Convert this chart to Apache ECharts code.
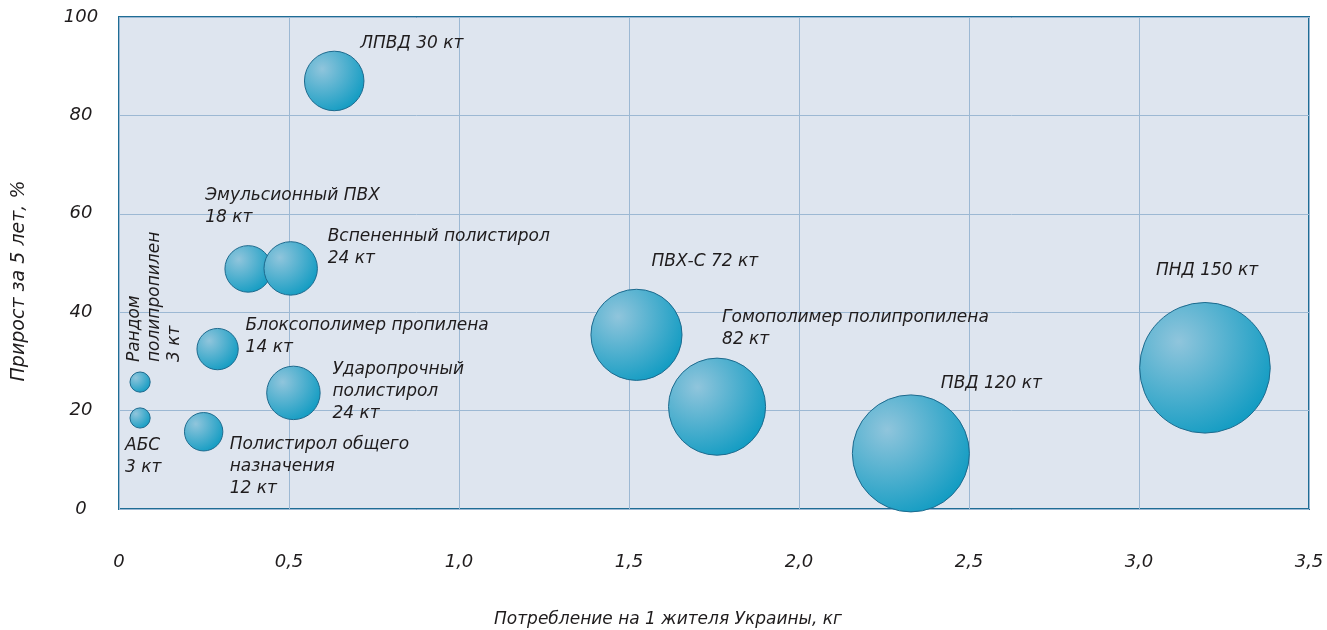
<!DOCTYPE html>
<html>
<head>
<meta charset="utf-8">
<script src="https://cdn.jsdelivr.net/npm/echarts@6/dist/echarts.min.js"></script>
<style>
html,body{margin:0;padding:0;background:#fff;}
#c{width:1327px;height:630px;}
</style>
</head>
<body>
<div id="c"></div>
<script>
// ---- data ----
var names = ['ЛПВД', 'Эмульсионный ПВХ', 'Вспененный полистирол', 'Блоксополимер пропилена',
  'Рандом полипропилен', 'АБС', 'Ударопрочный полистирол', 'Полистирол общего назначения',
  'ПВХ-С', 'Гомополимер полипропилена', 'ПВД', 'ПНД'];
var consumption = [0.633, 0.380, 0.505, 0.290, 0.062, 0.062, 0.513, 0.249, 1.522, 1.759, 2.329, 3.194];
var growth = [87.0, 48.8, 48.9, 32.5, 25.8, 18.5, 23.6, 15.7, 35.4, 20.8, 11.3, 28.7];
var volumeKt = [30, 18, 24, 14, 3, 3, 24, 12, 72, 82, 120, 150];
var labelTexts = ['ЛПВД 30 кт', 'Эмульсионный ПВХ\n18 кт', 'Вспененный полистирол\n24 кт',
  'Блоксополимер пропилена\n14 кт', 'Рандом\nполипропилен\n3 кт', 'АБС\n3 кт',
  'Ударопрочный\nполистирол\n24 кт', 'Полистирол общего\nназначения\n12 кт',
  'ПВХ-С 72 кт', 'Гомополимер полипропилена\n82 кт', 'ПВД 120 кт', 'ПНД 150 кт'];
var xTicks = ['0', '0,5', '1,0', '1,5', '2,0', '2,5', '3,0', '3,5'];
var xAxisTitle = 'Потребление на 1 жителя Украины, кг';
var yAxisTitle = 'Прирост за 5 лет, %';

// label placement (styling only)
var labelOffsets = [[26, -48], [-43, -84], [37, -43], [28, -35], [20, -16], [-15, 17],
  [39, -34], [26, 2], [15, -84], [5, -100], [30, -81], [-49, -108]];

var FONT = '"DejaVu Sans", "Liberation Sans", sans-serif';
var TXT = '#1f1c1d';

var bubbleColor = {
  type: 'radial', x: 0.3, y: 0.3, r: 0.85,
  colorStops: [{offset: 0, color: '#90c5dc'}, {offset: 1, color: '#0698c0'}]
};

var seriesData = names.map(function (n, i) {
  var lbl = {
    show: true, position: 'inside', formatter: labelTexts[i],
    align: 'left', verticalAlign: 'top', offset: labelOffsets[i],
    color: TXT, fontStyle: 'italic', fontSize: 17, fontFamily: FONT, lineHeight: 22
  };
  if (i === 4) { lbl.rotate = 90; lbl.lineHeight = 20; }
  return {
    name: n,
    value: [consumption[i], growth[i], volumeKt[i]],
    label: lbl
  };
});

var chart = echarts.init(document.getElementById('c'));
chart.setOption({
  animation: false,
  backgroundColor: '#ffffff',
  grid: {
    left: 119, right: 18, top: 17, bottom: 121,
    outerBoundsMode: 'none', containLabel: false,
    show: true, backgroundColor: '#dee5ef', borderColor: '#1f6d95', borderWidth: 2
  },
  xAxis: {
    type: 'value', min: 0, max: 3.5, interval: 0.5,
    axisLine: {show: false}, axisTick: {show: false},
    splitLine: {show: true, lineStyle: {color: '#9cb8d3', width: 1}},
    axisLabel: {
      margin: 44, color: TXT, fontSize: 18, fontStyle: 'italic', fontFamily: FONT,
      formatter: function (v) { return xTicks[Math.round(v / 0.5)]; }
    },
    name: xAxisTitle, nameLocation: 'middle', nameGap: 102,
    nameTextStyle: {color: TXT, fontSize: 17, fontStyle: 'italic', fontFamily: FONT, padding: [0, 92, 0, 0]}
  },
  yAxis: {
    type: 'value', min: 0, max: 100, interval: 20,
    axisLine: {show: false}, axisTick: {show: false},
    splitLine: {show: true, lineStyle: {color: '#9cb8d3', width: 1}},
    axisLabel: {
      margin: 38, align: 'center', color: TXT, fontSize: 18, fontStyle: 'italic', fontFamily: FONT
    },
    name: yAxisTitle, nameLocation: 'middle', nameGap: 90,
    nameTextStyle: {color: TXT, fontSize: 19, fontStyle: 'italic', fontFamily: FONT, padding: [0, 36, 0, 0]}
  },
  series: [{
    type: 'scatter',
    data: seriesData,
    symbolSize: function (val) { return 2 * (1 + 5.25 * Math.sqrt(val[2])); },
    itemStyle: {color: bubbleColor, borderColor: '#1d6a8e', borderWidth: 1, opacity: 1},
    emphasis: {disabled: true}
  }]
});
</script>
</body>
</html>
